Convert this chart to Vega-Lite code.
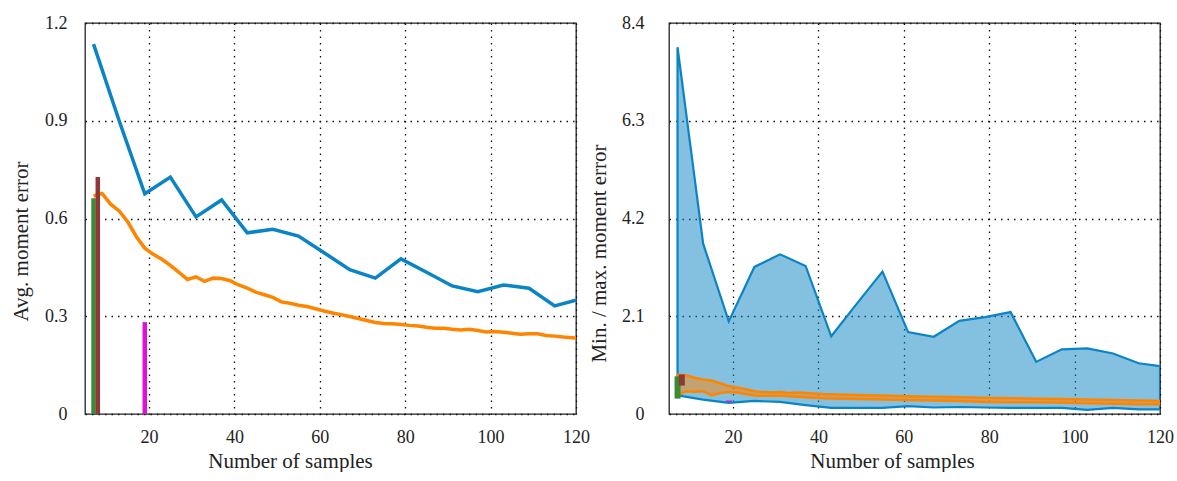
{
  "$schema": "https://vega.github.io/schema/vega-lite/v6.json",
  "padding": {"left": 9, "top": 13, "right": 0, "bottom": 0},
  "background": "white",
  "spacing": -4,
  "datasets": {
    "blue": [
      {"n": 7, "avg": 1.135, "min": 0.40, "max": 7.88},
      {"n": 13, "avg": 0.90, "min": 0.31, "max": 3.66},
      {"n": 19, "avg": 0.676, "min": 0.24, "max": 1.99},
      {"n": 25, "avg": 0.727, "min": 0.28, "max": 3.16},
      {"n": 31, "avg": 0.605, "min": 0.26, "max": 3.43},
      {"n": 37, "avg": 0.657, "min": 0.19, "max": 3.18},
      {"n": 43, "avg": 0.556, "min": 0.13, "max": 1.67},
      {"n": 49, "avg": 0.567, "min": 0.13, "max": 2.37},
      {"n": 55, "avg": 0.546, "min": 0.13, "max": 3.06},
      {"n": 61, "avg": 0.495, "min": 0.17, "max": 1.76},
      {"n": 67, "avg": 0.443, "min": 0.14, "max": 1.66},
      {"n": 73, "avg": 0.417, "min": 0.15, "max": 2.0},
      {"n": 79, "avg": 0.476, "min": 0.14, "max": 2.08},
      {"n": 85, "avg": 0.435, "min": 0.13, "max": 2.19},
      {"n": 91, "avg": 0.393, "min": 0.13, "max": 1.12},
      {"n": 97, "avg": 0.375, "min": 0.13, "max": 1.39},
      {"n": 103, "avg": 0.396, "min": 0.09, "max": 1.41},
      {"n": 109, "avg": 0.386, "min": 0.13, "max": 1.30},
      {"n": 115, "avg": 0.332, "min": 0.10, "max": 1.09},
      {"n": 120, "avg": 0.349, "min": 0.10, "max": 1.03}
    ],
    "orange": [
      {"n": 7, "avg": 0.669}, {"n": 9, "avg": 0.677}, {"n": 11, "avg": 0.644}, {"n": 13, "avg": 0.623},
      {"n": 15, "avg": 0.590}, {"n": 17, "avg": 0.545}, {"n": 19, "avg": 0.509}, {"n": 21, "avg": 0.490},
      {"n": 23, "avg": 0.475}, {"n": 25, "avg": 0.456}, {"n": 27, "avg": 0.435}, {"n": 29, "avg": 0.413},
      {"n": 31, "avg": 0.421}, {"n": 33, "avg": 0.407}, {"n": 35, "avg": 0.417}, {"n": 37, "avg": 0.416},
      {"n": 39, "avg": 0.409}, {"n": 41, "avg": 0.396}, {"n": 43, "avg": 0.386}, {"n": 45, "avg": 0.374},
      {"n": 47, "avg": 0.366}, {"n": 49, "avg": 0.358}, {"n": 51, "avg": 0.344}, {"n": 53, "avg": 0.340},
      {"n": 55, "avg": 0.334}, {"n": 57, "avg": 0.330}, {"n": 59, "avg": 0.323}, {"n": 61, "avg": 0.316},
      {"n": 63, "avg": 0.310}, {"n": 65, "avg": 0.305}, {"n": 67, "avg": 0.299}, {"n": 69, "avg": 0.293},
      {"n": 71, "avg": 0.287}, {"n": 73, "avg": 0.281}, {"n": 75, "avg": 0.278}, {"n": 77, "avg": 0.277},
      {"n": 79, "avg": 0.275}, {"n": 81, "avg": 0.272}, {"n": 83, "avg": 0.270}, {"n": 85, "avg": 0.266},
      {"n": 87, "avg": 0.263}, {"n": 89, "avg": 0.263}, {"n": 91, "avg": 0.260}, {"n": 93, "avg": 0.258},
      {"n": 95, "avg": 0.260}, {"n": 97, "avg": 0.256}, {"n": 99, "avg": 0.252}, {"n": 101, "avg": 0.253},
      {"n": 103, "avg": 0.251}, {"n": 105, "avg": 0.248}, {"n": 107, "avg": 0.245}, {"n": 109, "avg": 0.246},
      {"n": 111, "avg": 0.246}, {"n": 113, "avg": 0.241}, {"n": 115, "avg": 0.239}, {"n": 117, "avg": 0.236},
      {"n": 119, "avg": 0.234}, {"n": 120, "avg": 0.233}
    ],
    "orangeRange": [
      {"n": 7, "min": 0.40, "max": 0.84}, {"n": 9, "min": 0.49, "max": 0.83}, {"n": 11, "min": 0.48, "max": 0.78},
      {"n": 13, "min": 0.49, "max": 0.74}, {"n": 15, "min": 0.40, "max": 0.72}, {"n": 17, "min": 0.45, "max": 0.66},
      {"n": 19, "min": 0.47, "max": 0.60}, {"n": 21, "min": 0.46, "max": 0.57}, {"n": 23, "min": 0.43, "max": 0.53},
      {"n": 25, "min": 0.40, "max": 0.49}, {"n": 27, "min": 0.39, "max": 0.47}, {"n": 29, "min": 0.39, "max": 0.46},
      {"n": 31, "min": 0.39, "max": 0.47}, {"n": 33, "min": 0.38, "max": 0.45}, {"n": 35, "min": 0.37, "max": 0.46},
      {"n": 37, "min": 0.36, "max": 0.45}, {"n": 41, "min": 0.34, "max": 0.43}, {"n": 45, "min": 0.33, "max": 0.42},
      {"n": 49, "min": 0.32, "max": 0.41}, {"n": 55, "min": 0.31, "max": 0.40}, {"n": 61, "min": 0.30, "max": 0.38},
      {"n": 67, "min": 0.29, "max": 0.37}, {"n": 73, "min": 0.28, "max": 0.36}, {"n": 79, "min": 0.26, "max": 0.35},
      {"n": 85, "min": 0.25, "max": 0.34}, {"n": 91, "min": 0.25, "max": 0.33}, {"n": 97, "min": 0.24, "max": 0.32},
      {"n": 103, "min": 0.23, "max": 0.31}, {"n": 109, "min": 0.22, "max": 0.30}, {"n": 115, "min": 0.21, "max": 0.29},
      {"n": 120, "min": 0.21, "max": 0.28}
    ],
    "single": [
      {"method": "A", "n": 7, "avg": 0.662, "min": 0.33, "max": 0.81},
      {"method": "B", "n": 8, "avg": 0.727, "min": 0.61, "max": 0.85},
      {"method": "C", "n": 19, "avg": 0.282, "min": 0.26, "max": 0.29}
    ]
  },
  "config": {
    "font": "Liberation Serif",
    "view": {"stroke": "#222", "strokeWidth": 1.3},
    "axis": {
      "labelFont": "Liberation Serif", "titleFont": "Liberation Serif",
      "labelFontSize": 18, "titleFontSize": 21, "titleFontWeight": "normal",
      "labelColor": "#222", "titleColor": "#222",
      "grid": true, "gridColor": "#111", "gridDash": [1.5, 5], "gridWidth": 1.3, "gridOpacity": 1,
      "ticks": false, "domain": false, "labelFlush": false
    }
  },
  "hconcat": [
    {
      "width": 491, "height": 391,
      "layer": [
        {
          "data": {"name": "blue"},
          "mark": {"type": "line", "color": "#0a84c4", "strokeWidth": 3.5, "clip": true},
          "encoding": {
            "x": {"field": "n", "type": "quantitative", "scale": {"domain": [5, 120], "nice": false, "zero": false},
                  "axis": {"title": "Number of samples", "values": [20, 40, 60, 80, 100, 120], "labelPadding": 14, "titlePadding": 4, "titleX": 205}},
            "y": {"field": "avg", "type": "quantitative", "scale": {"domain": [0, 1.2], "nice": false},
                  "axis": {"title": "Avg. moment error", "values": [0, 0.3, 0.6, 0.9, 1.2], "format": ".2~g", "labelPadding": 18, "titlePadding": 13, "titleY": 218}}
          }
        },
        {
          "data": {"name": "orange"},
          "mark": {"type": "line", "color": "#ff8400", "strokeWidth": 3.5, "clip": true},
          "encoding": {
            "x": {"field": "n", "type": "quantitative"},
            "y": {"field": "avg", "type": "quantitative"}
          }
        },
        {
          "data": {"name": "single"},
          "mark": {"type": "rule", "strokeWidth": 4.5},
          "encoding": {
            "x": {"field": "n", "type": "quantitative"},
            "y": {"field": "avg", "type": "quantitative"},
            "y2": {"datum": 0},
            "color": {"field": "method", "type": "nominal", "scale": {"domain": ["A", "B", "C"], "range": ["#3a8c34", "#8e3838", "#e010d8"]}, "legend": null}
          }
        }
      ]
    },
    {
      "width": 491, "height": 391,
      "layer": [
        {
          "data": {"name": "blue"},
          "mark": {"type": "area", "color": "#0a84c4", "fillOpacity": 0.5, "stroke": "#0a84c4", "strokeWidth": 2.2, "clip": true},
          "encoding": {
            "x": {"field": "n", "type": "quantitative", "scale": {"domain": [5, 120], "nice": false, "zero": false},
                  "axis": {"title": "Number of samples", "values": [20, 40, 60, 80, 100, 120], "labelPadding": 14, "titlePadding": 4, "titleX": 223}},
            "y": {"field": "min", "type": "quantitative", "scale": {"domain": [0, 8.4], "nice": false},
                  "axis": {"title": "Min. / max. moment error", "values": [0, 2.1, 4.2, 6.3, 8.4], "format": ".2~g", "labelPadding": 25, "titlePadding": 12, "titleY": 230}},
            "y2": {"field": "max"}
          }
        },
        {
          "data": {"name": "orangeRange"},
          "mark": {"type": "area", "color": "#ff8400", "fillOpacity": 0.5, "stroke": "#ff8400", "strokeWidth": 2.5, "clip": true},
          "encoding": {
            "x": {"field": "n", "type": "quantitative"},
            "y": {"field": "min", "type": "quantitative"},
            "y2": {"field": "max"}
          }
        },
        {
          "data": {"name": "single"},
          "mark": {"type": "rule", "strokeWidth": 6},
          "encoding": {
            "x": {"field": "n", "type": "quantitative"},
            "y": {"field": "min", "type": "quantitative"},
            "y2": {"field": "max"},
            "color": {"field": "method", "type": "nominal", "scale": {"domain": ["A", "B", "C"], "range": ["#3a8c34", "#8e3838", "#e010d8"]}, "legend": null}
          }
        }
      ]
    }
  ]
}
